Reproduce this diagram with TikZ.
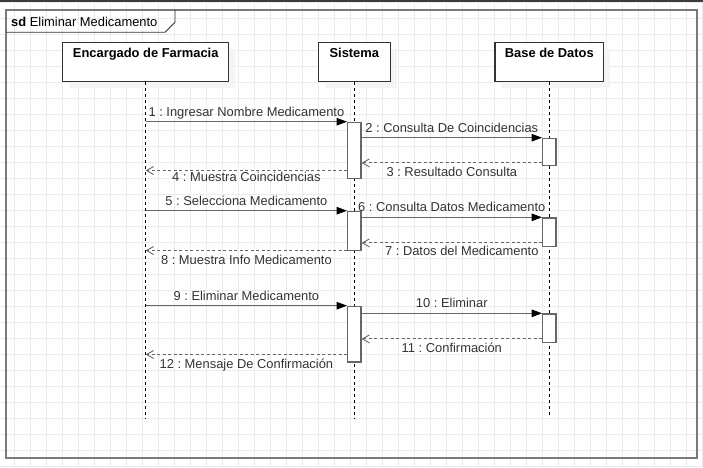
\documentclass[tikz,border=0pt]{standalone}
\usepackage{fontspec}
\setmainfont{Liberation Sans}
\usepackage{tikz}
\usetikzlibrary{positioning,calc,arrows.meta,shadows}
\definecolor{lngray}{HTML}{666666}
\definecolor{frgray}{HTML}{7A7A7A}
\definecolor{txgray}{HTML}{333333}
\definecolor{grgray}{HTML}{ECECEC}
\definecolor{topbar}{HTML}{3C3C3C}
\tikzset{>=Stealth}
\newcommand*{\msgfont}{\fontsize{12.9}{15}\selectfont}
\frenchspacing

\begin{document}
\begin{tikzpicture}[x=1pt,y=-1pt,
  head/.style={draw=txgray,line width=1.1pt,fill=white,font=\msgfont\bfseries,text height=9.2pt,text depth=17.3pt,inner ysep=6.4pt,inner xsep=0pt,anchor=north,
    drop shadow={shadow xshift=6.5pt,shadow yshift=-6.5pt,fill=black!4,opacity=1}},
  bar/.style={draw=lngray,line width=1.2pt,fill=white,minimum width=13.3pt,inner sep=0pt,anchor=north},
  life/.style={black,line width=0.9pt,dash pattern=on 3pt off 3pt},
  msg/.style={lngray,line width=1.3pt,-{Triangle[length=10.5pt,width=7.5pt,color=black]}},
  ret/.style={lngray,line width=1pt,dash pattern=on 3pt off 2.5pt,-{Straight Barb[length=7pt,width=8pt,line width=0.9pt]}},
  lblup/.style={anchor=base,yshift=5.5pt,font=\msgfont,text=txgray},
  lbldn/.style={anchor=base,yshift=-14pt,font=\msgfont,text=txgray}]
\useasboundingbox (0,0) rectangle (703,467);
% Draw background grid and top bar
\foreach \i in {0,...,43} \draw[grgray,line width=0.9pt] (14.5+16*\i,0) -- (14.5+16*\i,467);
\foreach \j in {0,...,29} \draw[grgray,line width=0.9pt] (0,2.7+16*\j) -- (703,2.7+16*\j);
\fill[topbar] (0,0) rectangle (703,1.8);
% Draw frame and tab
\draw[frgray,line width=1.6pt] (6,10) rectangle (696.7,457.7);
\draw[txgray,line width=0.8pt] (6,32.3) -- (165,32.3) -- (175,22.3) -- (175,10);
\node[anchor=base west,font=\msgfont,inner sep=0pt] (ttl) at (11,26) {\textbf{sd}\ Eliminar Medicamento};
% Draw lifeline heads
\node[head,minimum width=166pt] (enc) at (145.7,41.7) {Encargado de Farmacia};
\node[head,minimum width=71.6pt] (sis) at (354.3,41.7) {Sistema};
\node[head,minimum width=108.7pt] (bd) at (549.3,41.7) {Base de Datos};
% Draw lifelines
\coordinate (encb) at (enc.south |- 0,419.3);
\coordinate (sisb) at (sis.south |- 0,419.3);
\coordinate (bdb) at (bd.south |- 0,415);
\draw[life] (enc.south) -- (encb);
\draw[life] (sis.south) -- (sisb);
\draw[life] (bd.south) -- (bdb);
% Draw activation bars
\node[bar,minimum height=56pt] (s1) at (sis.south |- 0,121.7) {};
\node[bar,minimum height=39.3pt] (s2) at (sis.south |- 0,210.7) {};
\node[bar,minimum height=55.6pt] (s3) at (sis.south |- 0,305.7) {};
\node[bar,minimum height=27.3pt] (d1) at (bd.south |- 0,137.7) {};
\node[bar,minimum height=28.4pt] (d2) at (bd.south |- 0,217.3) {};
\node[bar,minimum height=28.4pt] (d3) at (bd.south |- 0,313.3) {};
% Points where the returns leave the bars
\coordinate (r3) at ($(d1.south west)+(0,-3.3)$);
\coordinate (r4) at ($(s1.south west)+(0,-8.4)$);
\coordinate (r7) at ($(d2.south west)+(0,-4)$);
\coordinate (r8) at ($(s2.south west)+(0,-0.7)$);
\coordinate (r11) at ($(d3.south west)+(0,-4)$);
\coordinate (r12) at ($(s3.south west)+(0,-8)$);
% Draw first block
\draw[msg] (enc.south |- s1.north) -- node[lblup] {1 : Ingresar Nombre Medicamento} (s1.north west);
\draw[msg] (s1.east |- d1.north) -- node[lblup] {2 : Consulta De Coincidencias} (d1.north west);
\draw[ret] (r3) -- node[lbldn] {3 : Resultado Consulta} (s1.east |- r3);
\draw[ret] (r4) -- node[lbldn,yshift=3.3pt] {4 : Muestra Coincidencias} (enc.south |- r4);
% Draw second block
\draw[msg] (enc.south |- s2.north) -- node[lblup] {5 : Selecciona Medicamento} (s2.north west);
\draw[msg] (s2.east |- d2.north) -- node[lblup] {6 : Consulta Datos Medicamento} (d2.north west);
\draw[ret] (r7) -- node[lbldn,xshift=10pt,yshift=1.5pt] {7 : Datos del Medicamento} (s2.east |- r7);
\draw[ret] (r8) -- node[lbldn] {8 : Muestra Info Medicamento} (enc.south |- r8);
% Draw third block
\draw[msg] (enc.south |- s3.north) -- node[lblup] {9 : Eliminar Medicamento} (s3.north west);
\draw[msg] (s3.east |- d3.north) -- node[lblup] {10 : Eliminar} (d3.north west);
\draw[ret] (r11) -- node[lbldn] {11 : Confirmación} (s3.east |- r11);
\draw[ret] (r12) -- node[lbldn] {12 : Mensaje De Confirmación} (enc.south |- r12);
\end{tikzpicture}
\end{document}
